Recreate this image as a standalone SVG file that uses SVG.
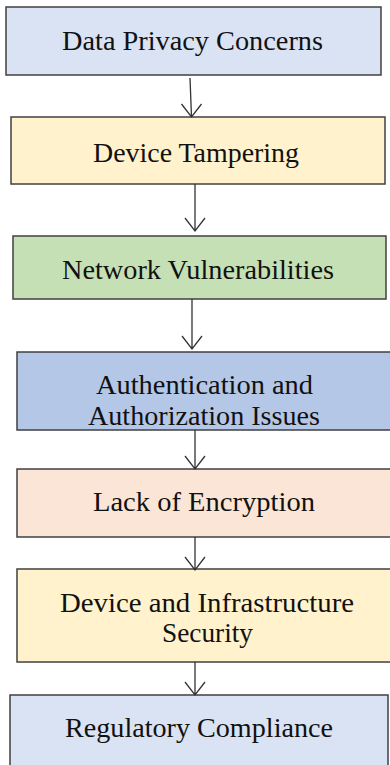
<svg xmlns="http://www.w3.org/2000/svg" width="390" height="765" viewBox="0 0 390 765">
<style>
.box{stroke:#404040;stroke-width:1.5}
.t{font-family:"Liberation Serif","Times New Roman",serif;font-size:26.5px;fill:#111}
.c{stroke:#333;stroke-width:1.3;fill:none}
</style>
<rect width="390" height="765" fill="#fff"/>
<g id="n1"><rect class="box" x="6" y="7" width="375" height="68" fill="#dae3f3"/><text class="t" x="62" y="50" textLength="261" lengthAdjust="spacingAndGlyphs">Data Privacy Concerns</text></g>
<g id="n2"><rect class="box" x="11" y="117" width="374" height="67" fill="#fff2cc"/><text class="t" x="93" y="162" textLength="206" lengthAdjust="spacingAndGlyphs">Device Tampering</text></g>
<g id="n3"><rect class="box" x="13" y="236" width="373" height="63" fill="#c5e0b4"/><text class="t" x="62" y="279" textLength="272" lengthAdjust="spacingAndGlyphs">Network Vulnerabilities</text></g>
<g id="n4"><rect class="box" x="17" y="352" width="376" height="78" fill="#b4c7e7"/><text class="t" x="96" y="394" textLength="217" lengthAdjust="spacingAndGlyphs">Authentication and</text><text class="t" x="88" y="425" textLength="232" lengthAdjust="spacingAndGlyphs">Authorization Issues</text></g>
<g id="n5"><rect class="box" x="17" y="469" width="376" height="68" fill="#fbe5d6"/><text class="t" x="93" y="511" textLength="222" lengthAdjust="spacingAndGlyphs">Lack of Encryption</text></g>
<g id="n6"><rect class="box" x="17" y="569" width="376" height="93" fill="#fff2cc"/><text class="t" x="60" y="612" textLength="294" lengthAdjust="spacingAndGlyphs">Device and Infrastructure</text><text class="t" x="162" y="642" textLength="91" lengthAdjust="spacingAndGlyphs">Security</text></g>
<g id="n7"><rect class="box" x="10" y="695" width="378" height="80" fill="#dae3f3"/><text class="t" x="65" y="737" textLength="268" lengthAdjust="spacingAndGlyphs">Regulatory Compliance</text></g>
<g id="connectors">
<path class="c" d="M190,78 L191.5,117 M181.5,104 L191.5,117 L201.5,104"/>
<path class="c" d="M195,184 L195,231 M185,218 L195,231 L205,218"/>
<path class="c" d="M192,299 L192,349 M182,336 L192,349 L202,336"/>
<path class="c" d="M195,430 L195,469 M185,456 L195,469 L205,456"/>
<path class="c" d="M195,537 L195,570 M185,557 L195,570 L205,557"/>
<path class="c" d="M195,662 L195,695 M185,682 L195,695 L205,682"/>
</g>
</svg>
